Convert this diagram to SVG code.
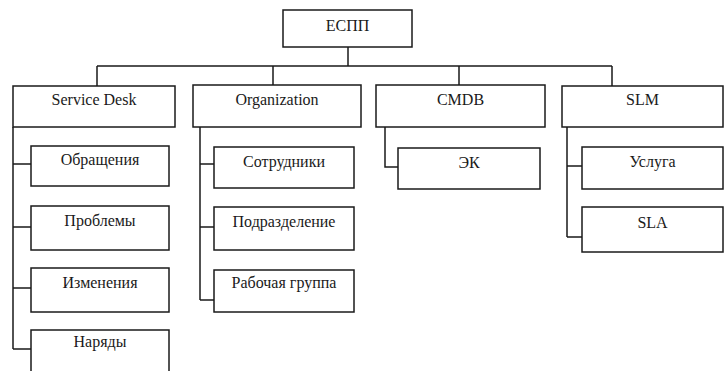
<svg xmlns="http://www.w3.org/2000/svg" width="725" height="371" viewBox="0 0 725 371">
<style>
.box{fill:#fff;stroke:#1a1a1a;stroke-width:1.5}
.con{fill:none;stroke:#1a1a1a;stroke-width:1.5}
</style>
<rect width="725" height="371" fill="#fff"/>
<g id="connectors">
<path class="con" d="M348 47V66M97 66H612M97 66V86M273 66V85M459 66V85M612 66V86"/>
<path class="con" d="M13 127V349M13 164H31M13 227H31M13 288H31M13 349H31"/>
<path class="con" d="M200 127V300M200 164H214M200 227H214M200 300H214"/>
<path class="con" d="M385 127V167H398"/>
<path class="con" d="M567 127V237M567 166H582M567 237H582"/>
</g>
<g id="nodes" font-family="Liberation Serif, Times New Roman, serif" font-size="16" fill="#1a1a1a" text-anchor="middle">
<g id="espp"><rect class="box" x="283" y="10" width="129" height="37"/><text x="347.5" y="31">ЕСПП</text></g>
<g id="servicedesk"><rect class="box" x="13" y="86" width="162" height="41"/><text x="94" y="105">Service Desk</text></g>
<g id="organization"><rect class="box" x="193" y="85" width="168" height="42"/><text x="277" y="105">Organization</text></g>
<g id="cmdb"><rect class="box" x="376" y="85" width="169" height="42"/><text x="460.5" y="105">CMDB</text></g>
<g id="slm"><rect class="box" x="562" y="86" width="161" height="41"/><text x="642.5" y="105">SLM</text></g>
<g id="obrascheniya"><rect class="box" x="31" y="146" width="138" height="40"/><text x="100" y="165">Обращения</text></g>
<g id="problemy"><rect class="box" x="31" y="206" width="138" height="44"/><text x="100" y="226">Проблемы</text></g>
<g id="izmeneniya"><rect class="box" x="31" y="268" width="138" height="44"/><text x="100" y="288">Изменения</text></g>
<g id="naryady"><rect class="box" x="31" y="330" width="138" height="46"/><text x="100" y="347">Наряды</text></g>
<g id="sotrudniki"><rect class="box" x="214" y="147" width="140" height="41"/><text x="284" y="167">Сотрудники</text></g>
<g id="podrazdelenie"><rect class="box" x="214" y="207" width="140" height="43"/><text x="284" y="227">Подразделение</text></g>
<g id="rabochaya"><rect class="box" x="214" y="270" width="140" height="42"/><text x="284" y="288">Рабочая группа</text></g>
<g id="ek"><rect class="box" x="398" y="148" width="142" height="41"/><text x="469" y="168">ЭК</text></g>
<g id="usluga"><rect class="box" x="582" y="147" width="141" height="42"/><text x="652.5" y="167">Услуга</text></g>
<g id="sla"><rect class="box" x="582" y="207" width="141" height="45"/><text x="652.5" y="228">SLA</text></g>
</g>
</svg>
